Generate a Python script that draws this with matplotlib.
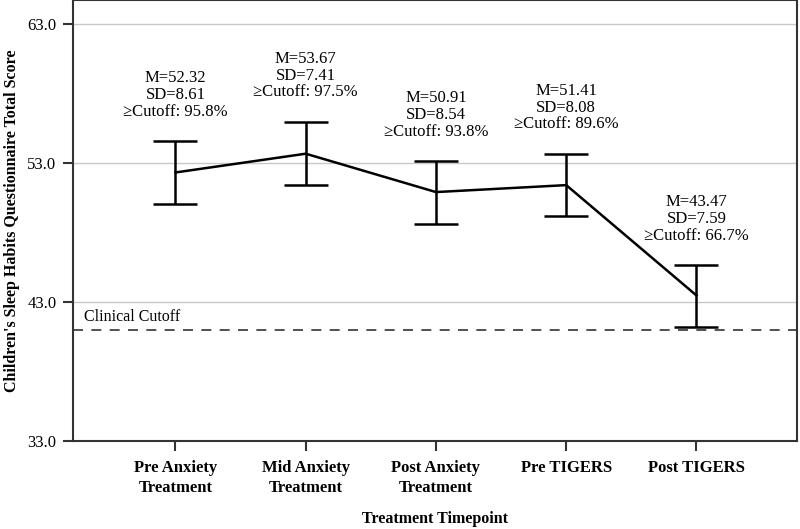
import matplotlib
matplotlib.use("Agg")
import matplotlib.pyplot as plt

categories = ["Pre Anxiety\nTreatment", "Mid Anxiety\nTreatment", "Post Anxiety\nTreatment",
              "Pre TIGERS", "Post TIGERS"]
means = [52.32, 53.67, 50.91, 51.41, 43.47]
sds = [8.61, 7.41, 8.54, 8.08, 7.59]
pct_cutoff = [95.8, 97.5, 93.8, 89.6, 66.7]
lower = [50.05, 51.42, 48.61, 49.19, 41.20]
upper = [54.58, 55.95, 53.14, 53.65, 45.66]
cutoff = 41.0
yticks = [33.0, 43.0, 53.0, 63.0]

plt.rcParams['font.family'] = ['Liberation Serif', 'DejaVu Serif']

fig = plt.figure(figsize=(8, 5.29), dpi=100)
ax = fig.add_axes([0.0915, 0.1664, 0.9045, 0.8336])

x = list(range(len(categories)))
ax.plot(x, means, color='black', lw=1.8, zorder=3)
err_lo = [m - l for m, l in zip(means, lower)]
err_hi = [u - m for m, u in zip(means, upper)]
ax.errorbar(x, means, yerr=[err_lo, err_hi], fmt='none', ecolor='black',
            elinewidth=1.8, capsize=16, capthick=1.8, zorder=3)

ax.axhline(cutoff, color='#333333', lw=1.2, ls=(0, (6, 5)), zorder=2)
ax.text(-0.7, cutoff + 0.35, "Clinical Cutoff", fontsize=11.5, ha='left', va='bottom')

for xi, m, s, p, u in zip(x, means, sds, pct_cutoff, upper):
    ax.annotate(f"M={m:.2f}\nSD={s:.2f}\n\u2265Cutoff: {p:.1f}%", xy=(xi, u),
                xytext=(0, 15.5), textcoords='offset points', ha='center', va='bottom',
                fontsize=12, linespacing=1.05)

ax.set_xlim(-0.785, 4.77)
ax.set_ylim(33, 64.73)
ax.set_yticks(yticks)
ax.set_yticklabels([f"{v:.1f}" for v in yticks], fontsize=12)
ax.set_xticks(x)
ax.set_xticklabels(categories, fontsize=12, fontweight='bold', linespacing=1.3)
ax.yaxis.grid(True, color='#c8c8c8', lw=1.0)
ax.set_axisbelow(True)
ax.tick_params(axis='both', direction='out', length=7, width=1.5, color='#333333')
ax.tick_params(axis='x', pad=7)
ax.tick_params(axis='y', pad=5)
for sp in ax.spines.values():
    sp.set_linewidth(1.5)
    sp.set_color('#333333')

ax.set_ylabel("Children's Sleep Habits Questionnaire Total Score", fontsize=11.5,
              fontweight='bold', va='center')
ax.yaxis.set_label_coords(-0.084, 0.5)
ax.set_xlabel("Treatment Timepoint", fontsize=11.5, fontweight='bold', va='center')
ax.xaxis.set_label_coords(0.5, -0.177)

fig.savefig("out.png", dpi=100)
